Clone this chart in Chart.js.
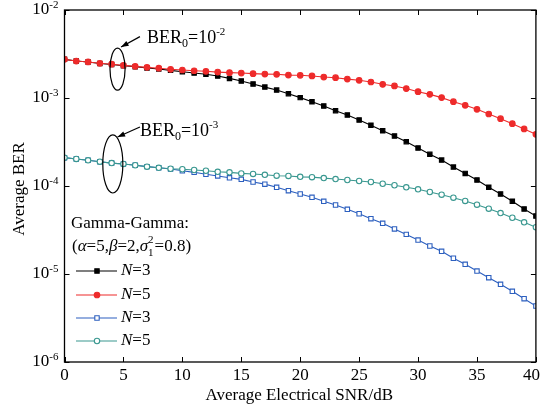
<!DOCTYPE html>
<html>
<head>
<meta charset="utf-8">
<script src="https://cdn.jsdelivr.net/npm/chart.js@4/dist/chart.umd.min.js"></script>
<style>
  html, body { margin: 0; padding: 0; background: #fff; }
  #wrap { width: 541px; height: 406px; }
</style>
</head>
<body>
<div id="wrap"><canvas id="berChart" width="541" height="406"></canvas></div>
<script>
// SNR in dB, one sample per dB
const snrDb = [0, 1, 2, 3, 4, 5, 6, 7, 8, 9, 10, 11, 12, 13, 14, 15, 16, 17, 18, 19, 20,
  21, 22, 23, 24, 25, 26, 27, 28, 29, 30, 31, 32, 33, 34, 35, 36, 37, 38, 39, 40];

// BER0 = 1e-2
const berN3hi = [2.75e-3, 2.63e-3, 2.57e-3, 2.47e-3, 2.40e-3, 2.33e-3, 2.27e-3, 2.19e-3, 2.14e-3, 2.06e-3,
  1.99e-3, 1.92e-3, 1.86e-3, 1.78e-3, 1.67e-3, 1.56e-3, 1.44e-3, 1.33e-3, 1.23e-3, 1.12e-3,
  1.01e-3, 9.08e-4, 8.11e-4, 7.18e-4, 6.41e-4, 5.62e-4, 4.90e-4, 4.25e-4, 3.70e-4, 3.19e-4,
  2.70e-4, 2.29e-4, 1.97e-4, 1.64e-4, 1.39e-4, 1.17e-4, 9.67e-5, 8.11e-5, 6.70e-5, 5.48e-5, 4.56e-5];
const berN5hi = [2.75e-3, 2.63e-3, 2.57e-3, 2.48e-3, 2.42e-3, 2.35e-3, 2.29e-3, 2.23e-3, 2.18e-3, 2.12e-3,
  2.08e-3, 2.04e-3, 2.01e-3, 1.97e-3, 1.94e-3, 1.92e-3, 1.89e-3, 1.87e-3, 1.86e-3, 1.82e-3,
  1.81e-3, 1.78e-3, 1.73e-3, 1.70e-3, 1.64e-3, 1.59e-3, 1.52e-3, 1.43e-3, 1.37e-3, 1.28e-3,
  1.18e-3, 1.10e-3, 1.01e-3, 9.08e-4, 8.26e-4, 7.44e-4, 6.58e-4, 5.82e-4, 5.11e-4, 4.45e-4, 3.87e-4];

// BER0 = 1e-3
const berN3lo = [2.10e-4, 2.03e-4, 1.96e-4, 1.89e-4, 1.82e-4, 1.78e-4, 1.72e-4, 1.66e-4, 1.61e-4, 1.56e-4,
  1.49e-4, 1.43e-4, 1.36e-4, 1.30e-4, 1.24e-4, 1.19e-4, 1.11e-4, 1.05e-4, 9.67e-5, 8.85e-5,
  8.11e-5, 7.44e-5, 6.70e-5, 6.08e-5, 5.43e-5, 4.84e-5, 4.25e-5, 3.77e-5, 3.25e-5, 2.82e-5,
  2.43e-5, 2.08e-5, 1.81e-5, 1.51e-5, 1.29e-5, 1.08e-5, 9.08e-6, 7.64e-6, 6.36e-6, 5.24e-6, 4.33e-6];
const berN5lo = [2.10e-4, 2.03e-4, 1.96e-4, 1.89e-4, 1.82e-4, 1.78e-4, 1.72e-4, 1.66e-4, 1.61e-4, 1.57e-4,
  1.55e-4, 1.52e-4, 1.49e-4, 1.45e-4, 1.43e-4, 1.39e-4, 1.37e-4, 1.34e-4, 1.31e-4, 1.30e-4,
  1.27e-4, 1.26e-4, 1.23e-4, 1.20e-4, 1.17e-4, 1.14e-4, 1.11e-4, 1.06e-4, 1.02e-4, 9.67e-5,
  9.17e-5, 8.55e-5, 7.96e-5, 7.36e-5, 6.76e-5, 6.13e-5, 5.52e-5, 4.93e-5, 4.36e-5, 3.87e-5, 3.40e-5];

const xTicks = [0, 5, 10, 15, 20, 25, 30, 35, 40];
const yTicks = [1e-6, 1e-5, 1e-4, 1e-3, 1e-2];
const seriesN = ['3', '5', '3', '5'];

const SERIF = '"Liberation Serif", "Times New Roman", serif';

const pairs = ys => snrDb.map((x, i) => ({ x, y: ys[i] }));

const datasets = [
  { label: 'N=3', data: pairs(berN3hi), borderColor: '#000000', backgroundColor: '#000000',
    pointStyle: 'rect', pointRadius: 3.1, order: 2 },
  { label: 'N=5', data: pairs(berN5hi), borderColor: '#ee2b2b', backgroundColor: '#ee2b2b',
    pointStyle: 'circle', pointRadius: 2.8, order: 1 },
  { label: 'N=3', data: pairs(berN3lo), borderColor: '#2c5fbf', backgroundColor: '#ffffff',
    pointStyle: 'rect', pointRadius: 3.1, order: 4 },
  { label: 'N=5', data: pairs(berN5lo), borderColor: '#3a9890', backgroundColor: '#ffffff',
    pointStyle: 'circle', pointRadius: 2.7, order: 3 }
].map(d => Object.assign({ borderWidth: 1.1, pointBorderWidth: 1.1, tension: 0, fill: false }, d));

// ellipse callouts, placed in data units
const callouts = [
  { exp: '-2', cx: 4.5, cy: 2.13e-3, rx: 0.64, ry: 0.239, from: [6.4, 4.98e-3], to: [4.8, 3.80e-3], at: [7.0, 4.81e-3] },
  { exp: '-3', cx: 4.1, cy: 1.78e-4, rx: 0.85, ry: 0.33, from: [6.4, 4.68e-4], to: [4.5, 3.61e-4], at: [6.4, 4.22e-4] }
];

function drawPow(ctx, x, y, exp, size, align) {
  // "10" followed by a raised exponent
  const big = size + 'px ' + SERIF, small = Math.round(size * 0.62) + 'px ' + SERIF;
  ctx.font = big;
  const w1 = ctx.measureText('10').width;
  ctx.font = small;
  const w2 = ctx.measureText(exp).width;
  let left = align === 'right' ? x - w1 - w2 : x;
  ctx.textBaseline = 'middle';
  ctx.textAlign = 'left';
  ctx.font = big;
  ctx.fillText('10', left, y);
  ctx.font = small;
  ctx.fillText(exp, left + w1, y - size * 0.3);
  return left + w1 + w2;
}

const axesPlugin = {
  id: 'axesPlugin',
  afterDatasetsDraw(chart) {
    const { ctx, chartArea: a, scales: { x, y } } = chart;
    ctx.save();
    ctx.strokeStyle = '#000';
    ctx.fillStyle = '#000';
    ctx.lineWidth = 1.3;
    ctx.strokeRect(a.left, a.top, a.right - a.left, a.bottom - a.top);
    ctx.beginPath();
    xTicks.forEach(v => {
      const px = Math.round(x.getPixelForValue(v)) + 0.5;
      ctx.moveTo(px, a.bottom); ctx.lineTo(px, a.bottom - 5);
      ctx.moveTo(px, a.top); ctx.lineTo(px, a.top + 5);
    });
    yTicks.forEach(v => {
      const py = Math.round(y.getPixelForValue(v)) + 0.5;
      ctx.moveTo(a.left, py); ctx.lineTo(a.left + 5, py);
      ctx.moveTo(a.right, py); ctx.lineTo(a.right - 5, py);
    });
    ctx.lineWidth = 1;
    ctx.stroke();

    // tick labels; the last one is kept inside the canvas
    ctx.font = '17px ' + SERIF;
    ctx.textAlign = 'left';
    ctx.textBaseline = 'top';
    xTicks.forEach(v => {
      const s = String(v), w = ctx.measureText(s).width;
      const lx = Math.min(x.getPixelForValue(v) - w / 2, chart.width - 1 - w);
      ctx.fillText(s, lx, a.bottom + 5);
    });
    yTicks.forEach(v => {
      const exp = String(Math.round(Math.log10(v)));
      drawPow(ctx, a.left - 6, y.getPixelForValue(v), exp, 17, 'right');
    });

    // axis titles
    ctx.font = '17px ' + SERIF;
    ctx.textAlign = 'center';
    ctx.textBaseline = 'alphabetic';
    ctx.fillText('Average Electrical SNR/dB', (a.left + a.right) / 2 - 1, 400);
    ctx.save();
    ctx.translate(24, 189);
    ctx.rotate(-Math.PI / 2);
    ctx.fillText('Average BER', 0, 0);
    ctx.restore();

    // callouts
    callouts.forEach(c => {
      const cx = x.getPixelForValue(c.cx), cy = y.getPixelForValue(c.cy);
      const rx = x.getPixelForValue(c.cx + c.rx) - cx;
      const ry = cy - y.getPixelForValue(c.cy * Math.pow(10, c.ry));
      ctx.lineWidth = 1.2;
      ctx.beginPath();
      ctx.ellipse(cx, cy, rx, ry, 0, 0, Math.PI * 2);
      ctx.stroke();
      const x1 = x.getPixelForValue(c.from[0]), y1 = y.getPixelForValue(c.from[1]);
      const x2 = x.getPixelForValue(c.to[0]), y2 = y.getPixelForValue(c.to[1]);
      ctx.beginPath();
      ctx.moveTo(x1, y1); ctx.lineTo(x2, y2);
      ctx.stroke();
      const ang = Math.atan2(y2 - y1, x2 - x1);
      ctx.beginPath();
      ctx.moveTo(x2, y2);
      ctx.lineTo(x2 - 8 * Math.cos(ang - 0.35), y2 - 8 * Math.sin(ang - 0.35));
      ctx.lineTo(x2 - 8 * Math.cos(ang + 0.35), y2 - 8 * Math.sin(ang + 0.35));
      ctx.closePath();
      ctx.fill();

      let tx = x.getPixelForValue(c.at[0]);
      const ty = y.getPixelForValue(c.at[1]);
      ctx.textAlign = 'left';
      ctx.textBaseline = 'middle';
      ctx.font = '18px ' + SERIF;
      ctx.fillText('BER', tx, ty);
      tx += ctx.measureText('BER').width;
      ctx.font = '12px ' + SERIF;
      ctx.fillText('0', tx, ty + 6);
      tx += ctx.measureText('0').width;
      ctx.font = '18px ' + SERIF;
      ctx.fillText('=', tx, ty);
      tx += ctx.measureText('=').width;
      drawPow(ctx, tx, ty, c.exp, 18, 'left');
    });
    ctx.restore();
  }
};

function drawMarker(ctx, ds, px, py) {
  ctx.fillStyle = ds.backgroundColor;
  ctx.strokeStyle = ds.borderColor;
  ctx.lineWidth = 1.1;
  const r = ds.pointRadius;
  ctx.beginPath();
  if (ds.pointStyle === 'rect') {
    const h = r / Math.SQRT2;
    ctx.rect(px - h, py - h, 2 * h, 2 * h);
  } else {
    ctx.arc(px, py, r, 0, Math.PI * 2);
  }
  ctx.fill();
  ctx.stroke();
}

const legendPlugin = {
  id: 'legendPlugin',
  afterDraw(chart) {
    const ctx = chart.ctx;
    ctx.save();
    ctx.fillStyle = '#000';
    ctx.textBaseline = 'middle';
    ctx.textAlign = 'left';
    ctx.font = '17px ' + SERIF;
    ctx.fillText('Gamma-Gamma:', 71, 224);

    // (α=5,β=2,σ1²=0.8)
    const up = '17px ' + SERIF, it = 'italic 17px ' + SERIF, tiny = '11px ' + SERIF;
    const parts = [['(', up], ['\u03b1', it], ['=5,', up], ['\u03b2', it], ['=2,', up], ['\u03c3', it]];
    let tx = 72, ty = 247;
    parts.forEach(([s, f]) => { ctx.font = f; ctx.fillText(s, tx, ty); tx += ctx.measureText(s).width; });
    ctx.font = tiny;
    ctx.fillText('2', tx, ty - 7);
    ctx.fillText('1', tx, ty + 6);
    tx += ctx.measureText('1').width + 1;
    ctx.font = up;
    ctx.fillText('=0.8)', tx, ty);

    const rows = [271, 295, 318, 341];
    chart.data.datasets.forEach((ds, i) => {
      const ry = rows[i];
      ctx.strokeStyle = ds.borderColor;
      ctx.lineWidth = 1.1;
      ctx.beginPath();
      ctx.moveTo(76, ry); ctx.lineTo(117, ry);
      ctx.stroke();
      drawMarker(ctx, ds, 97, ry);
      ctx.fillStyle = '#000';
      let lx = 121;
      ctx.font = 'italic 17px ' + SERIF;
      ctx.fillText('N', lx, ry);
      lx += ctx.measureText('N').width;
      ctx.font = '17px ' + SERIF;
      ctx.fillText('=' + seriesN[i], lx, ry);
    });
    ctx.restore();
  }
};

new Chart(document.getElementById('berChart'), {
  type: 'line',
  data: { datasets },
  options: {
    responsive: false,
    animation: false,
    layout: { padding: { left: 64.5, top: 10, right: 4, bottom: 44 } },
    plugins: { legend: { display: false }, tooltip: { enabled: false } },
    scales: {
      x: { type: 'linear', min: 0, max: 40, display: false },
      y: { type: 'logarithmic', min: 1e-6, max: 1e-2, display: false }
    }
  },
  plugins: [axesPlugin, legendPlugin]
});
</script>
</body>
</html>
